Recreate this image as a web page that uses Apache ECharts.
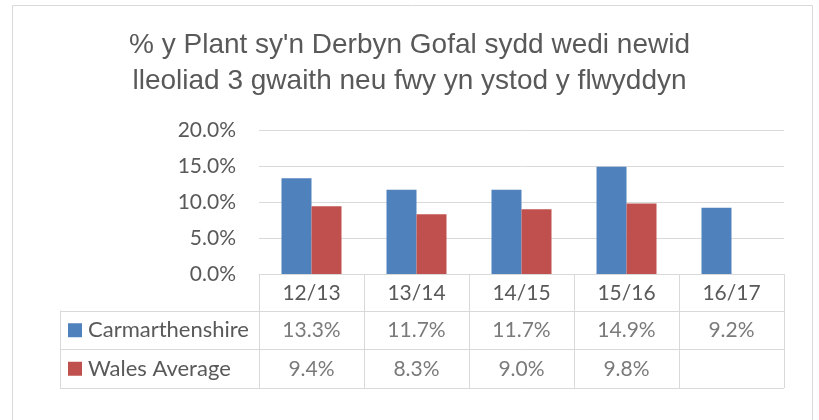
<!DOCTYPE html>
<html>
<head>
<meta charset="utf-8">
<script src="https://cdn.jsdelivr.net/npm/echarts@6/dist/echarts.min.js"></script>
<style>
  html, body { margin: 0; padding: 0; background: #fff; }
  #chart { width: 819px; height: 420px; }
</style>
</head>
<body>
<div id="chart"></div>
<script>
const years = ['12/13', '13/14', '14/15', '15/16', '16/17'];
const seriesNames = ['Carmarthenshire', 'Wales Average'];
const carmarthenshire = [0.133, 0.117, 0.117, 0.149, 0.092];
const walesAverage = [0.094, 0.083, 0.090, 0.098, null];
const seriesColors = ['#4f81bd', '#c0504d'];

const lineColor = '#d9d9d9';
const textColor = '#595959';
const tableFont = 'Lato, "Open Sans", sans-serif';

const pct = v => (v * 100).toFixed(1) + '%';

// cells of the data table: [year, row, value]
const cells = (values, row) => values
    .map((v, i) => v == null ? null : [years[i], row, v])
    .filter(Boolean);

const chart = echarts.init(document.getElementById('chart'));

const option = {
    backgroundColor: '#fff',
    animation: false,
    title: {
        text: "% y Plant sy'n Derbyn Gofal sydd wedi newid\nlleoliad 3 gwaith neu fwy yn ystod y flwyddyn",
        left: 'center',
        top: 27,
        padding: 0,
        textStyle: {
            fontFamily: '"Liberation Sans Narrow", "Liberation Sans", sans-serif',
            fontWeight: 'normal',
            fontSize: 28,
            lineHeight: 36,
            color: textColor,
        },
    },
    graphic: [
        {
            type: 'rect',
            shape: { x: 12.5, y: 5.5, width: 800, height: 420 },
            style: { fill: 'none', stroke: lineColor, lineWidth: 1 },
            silent: true,
        },
    ],
    grid: [
        { left: 259, right: 35, top: 130, height: 144 },
        { left: 259, right: 35, top: 311, height: 77 },
    ],
    xAxis: [
        {
            gridIndex: 0,
            type: 'category',
            data: years,
            boundaryGap: true,
            axisLine: { show: true, lineStyle: { color: lineColor } },
            axisTick: { show: true, interval: 0, length: 37, lineStyle: { color: lineColor } },
            axisLabel: {
                margin: 19,
                verticalAlign: 'middle',
                fontFamily: tableFont,
                fontSize: 21,
                color: textColor,
            },
            splitLine: { show: false },
        },
        {
            gridIndex: 1,
            type: 'category',
            data: years,
            boundaryGap: true,
            axisLine: { show: false },
            axisTick: { show: false },
            axisLabel: { show: false },
            splitLine: { show: true, interval: 0, lineStyle: { color: lineColor } },
        },
    ],
    yAxis: [
        {
            gridIndex: 0,
            type: 'value',
            min: 0,
            max: 0.2,
            interval: 0.05,
            axisLine: { show: false },
            axisTick: { show: false },
            axisLabel: {
                margin: 23,
                formatter: pct,
                fontFamily: tableFont,
                fontSize: 21,
                color: textColor,
            },
            splitLine: { lineStyle: { color: lineColor } },
        },
        {
            gridIndex: 1,
            type: 'category',
            data: seriesNames,
            inverse: true,
            boundaryGap: true,
            offset: 199,
            axisLine: { show: true, lineStyle: { color: lineColor } },
            axisTick: { show: true, inside: true, interval: 0, length: 199, lineStyle: { color: lineColor } },
            axisLabel: {
                inside: true,
                margin: 8,
                align: 'left',
                formatter: (value, index) => '{m' + index + '|}{t|' + value + '}',
                rich: {
                    m0: { width: 14, height: 14, backgroundColor: seriesColors[0] },
                    m1: { width: 14, height: 14, backgroundColor: seriesColors[1] },
                    t: { padding: [0, 0, 0, 6], fontFamily: tableFont, fontSize: 22, color: textColor },
                },
            },
            splitLine: { show: true, interval: 0, lineStyle: { color: lineColor } },
        },
    ],
    series: [
        {
            name: seriesNames[0],
            type: 'bar',
            xAxisIndex: 0,
            yAxisIndex: 0,
            barWidth: 30,
            barGap: '0%',
            itemStyle: { color: seriesColors[0] },
            data: carmarthenshire,
        },
        {
            name: seriesNames[1],
            type: 'bar',
            xAxisIndex: 0,
            yAxisIndex: 0,
            barWidth: 30,
            barGap: '0%',
            itemStyle: { color: seriesColors[1] },
            data: walesAverage,
        },
        ...[carmarthenshire, walesAverage].map((values, row) => ({
            type: 'scatter',
            xAxisIndex: 1,
            yAxisIndex: 1,
            symbolSize: 0,
            itemStyle: { color: 'transparent' },
            label: {
                show: true,
                position: 'inside',
                formatter: p => pct(p.data[2]),
                fontFamily: tableFont,
                fontSize: 21,
                color: textColor,
            },
            data: cells(values, seriesNames[row]),
        })),
    ],
};

chart.setOption(option);
</script>
</body>
</html>
